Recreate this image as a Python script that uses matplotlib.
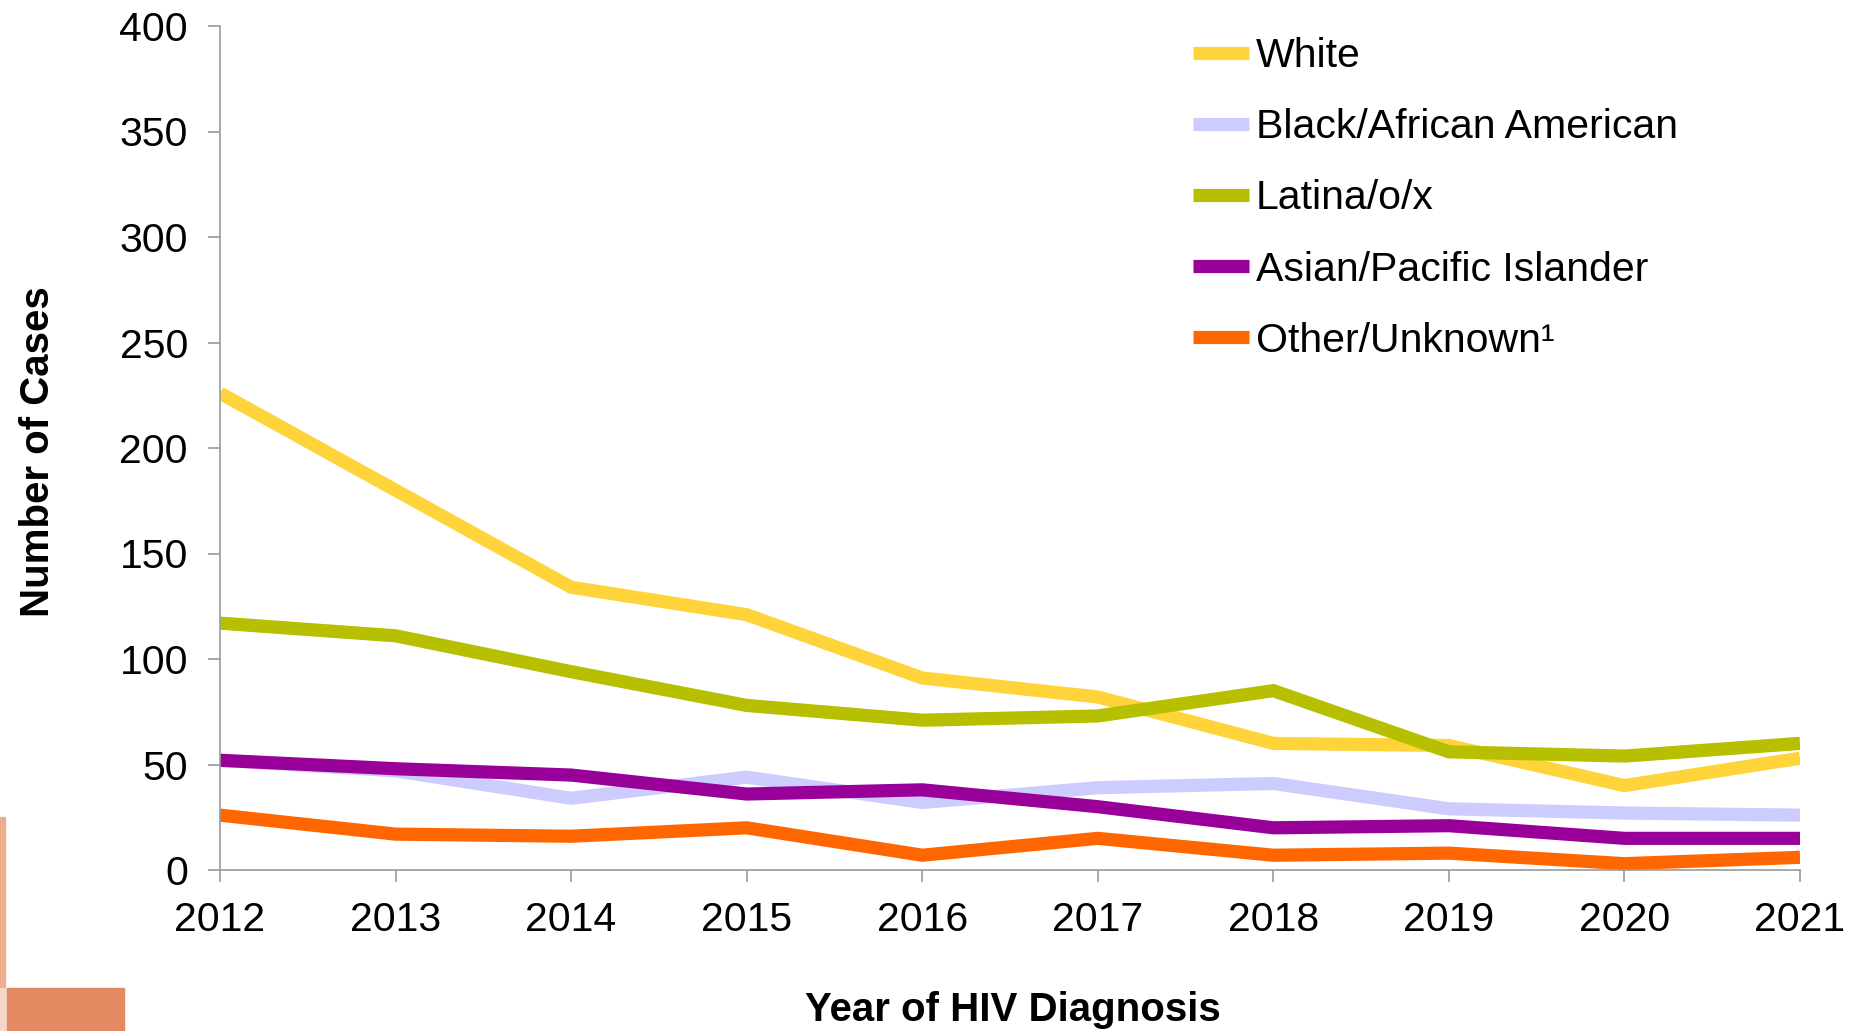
import matplotlib
matplotlib.use("Agg")
import matplotlib.pyplot as plt
from matplotlib.patches import Rectangle

plt.rcParams["font.family"] = ["Liberation Sans", "DejaVu Sans"]

# ── data ──────────────────────────────────────────────────────────
years = [2012, 2013, 2014, 2015, 2016, 2017, 2018, 2019, 2020, 2021]
white  = [226, 180, 134, 121, 91, 82, 60, 59, 40, 53]
black  = [52, 47, 34, 44, 32, 39, 41, 29, 27, 26]
latina = [117, 111, 94, 78, 71, 73, 85, 56, 54, 60]
asian  = [52, 48, 45, 36, 38, 30, 20, 21, 15, 15]
other  = [26, 17, 16, 20, 7, 15, 7, 8, 3, 6]

series = [
    ("White", white, "#FFD43A"),
    ("Black/African American", black, "#CCCCFF"),
    ("Latina/o/x", latina, "#B6BF00"),
    ("Asian/Pacific Islander", asian, "#990099"),
    ("Other/Unknown\u00b9", other, "#FF6600"),
]

W, H = 1862, 1031
fig = plt.figure(figsize=(W / 100, H / 100), dpi=100)
ax = fig.add_axes([220 / W, 1 - 870 / H, 1580 / W, 844 / H])

for name, vals, col in series:
    ax.plot(years, vals, color=col, lw=9.5, label=name,
            solid_capstyle="butt", solid_joinstyle="miter")

ax.set_xlim(2012, 2021)
ax.set_ylim(0, 400)
ax.set_xticks(years)
ax.set_yticks(range(0, 401, 50))

GRAY = "#9A9A9A"
for s in ["top", "right"]:
    ax.spines[s].set_visible(False)
for s in ["left", "bottom"]:
    ax.spines[s].set_color(GRAY)
    ax.spines[s].set_linewidth(1.2)
ax.tick_params(axis="both", direction="out", length=8.6, width=1.2,
               color=GRAY, labelsize=29.5, labelcolor="black")
ax.tick_params(axis="y", pad=14.5)
ax.tick_params(axis="x", pad=14)

fig.text(38 / W, 1 - 452 / H, "Number of Cases", rotation=90,
         ha="center", va="center", fontsize=29, fontweight="bold")
fig.text(1013 / W, 1 - 1010 / H, "Year of HIV Diagnosis",
         ha="center", va="center", fontsize=29, fontweight="bold")

ax.legend(loc="upper left", bbox_to_anchor=(1193 / W, 1 - 37 / H),
          bbox_transform=fig.transFigure, frameon=False, fontsize=29.5,
          handlelength=1.37, handletextpad=0.17, labelspacing=0.81,
          borderpad=0, borderaxespad=0)

# decorative slide corner
fig.patches.append(Rectangle((0, 1 - 988 / H), 5 / W, 171 / H,
                             transform=fig.transFigure, color="#EEAE8E", zorder=0))
fig.patches.append(Rectangle((0, 0), 6 / W, 43 / H,
                             transform=fig.transFigure, color="#F6D6C6", zorder=0))
fig.patches.append(Rectangle((7 / W, 0), 117 / W, 43 / H,
                             transform=fig.transFigure, color="#E38A62", zorder=0))

fig.savefig("out.png", dpi=100, facecolor="white")
